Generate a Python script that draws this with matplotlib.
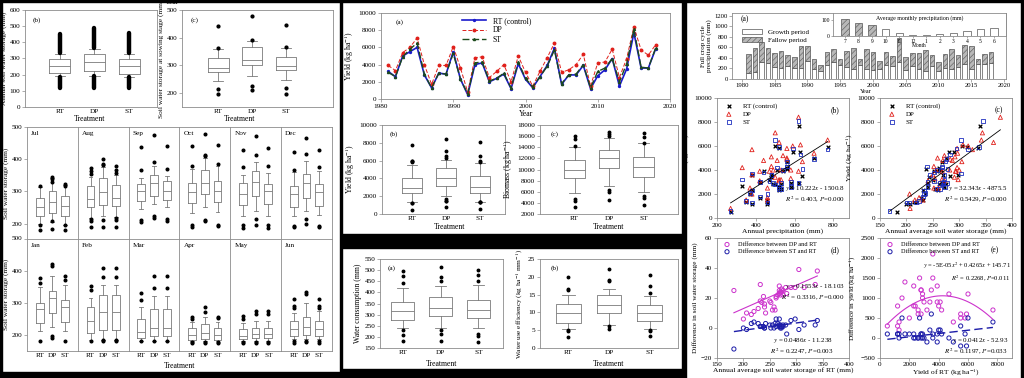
import numpy as np
import matplotlib
matplotlib.use('Agg')
import matplotlib.pyplot as plt
from matplotlib.patches import Rectangle
from matplotlib import cbook

plt.rcParams['font.family'] = ['Liberation Serif', 'DejaVu Serif']
plt.rcParams['mathtext.fontset'] = 'stix'
plt.rcParams['hatch.linewidth'] = 0.4

#Yearly data (1981-2018)
years = list(range(1981, 2019))
yield_rt = [3200, 2600, 5000, 5500, 6000, 2800, 1300, 3000, 2900, 5500, 2300, 500, 4000, 4200, 2000, 2400, 2900, 1200, 4100,
            2300, 1300, 2600, 3900, 5900, 1700, 2800, 2800, 3900, 1200, 2700, 3400, 4700, 1500, 3500, 7700, 3600, 3600, 5800]
yield_dp = [3900, 3300, 5400, 6000, 7100, 4000, 1700, 3900, 3900, 6100, 3600, 800, 4800, 4900, 2500, 3200, 4000, 2000, 5000,
            3100, 1500, 3200, 4800, 6500, 3100, 3400, 4000, 5200, 1500, 4200, 4300, 5800, 2500, 4700, 8400, 5700, 5100, 6300]
yield_st = [3100, 2600, 4900, 5800, 6500, 2900, 1300, 3000, 2900, 5300, 2300, 600, 4200, 4300, 2100, 2400, 3000, 1300, 4300,
            2400, 1400, 2600, 3800, 5700, 1800, 2800, 2900, 4000, 1300, 3200, 3600, 4700, 2000, 4100, 8100, 3700, 3600, 5900]
precip_total = [470, 580, 700, 590, 500, 530, 460, 420, 620, 630, 380, 270, 510, 560, 370, 530, 580, 380, 560,
                520, 350, 520, 440, 770, 420, 500, 490, 540, 460, 330, 480, 560, 460, 640, 620, 380, 480, 520]
precip_growth = [110, 130, 320, 300, 230, 200, 250, 200, 200, 350, 190, 150, 260, 330, 260, 220, 190, 270, 180,
                 170, 190, 260, 240, 320, 170, 240, 180, 160, 240, 160, 200, 180, 220, 290, 180, 280, 290, 300]
sws_rt = [250, 240, 275, 290, 305, 262, 215, 268, 270, 280, 232, 182, 265, 262, 235, 255, 240, 200, 238,
          260, 220, 272, 252, 315, 228, 268, 275, 258, 206, 272, 242, 268, 232, 282, 340, 298, 270, 336]
dsws_dp = [18, 14, 22, 27, 39, 20, 9, 25, 24, 27, 18, 25, 22, 21, 17, 12, 16, 6, 21,
           12, 11, 26, 17, 27, 13, 23, 25, 14, 10, 24, 10, 28, 29, 23, 38, 27, 22, 29]
dsws_st = [2, 0, 1, 5, -1, 1, 3, 2, 0, 2, 1, -14, 3, 6, 1, 2, 0, 0, 1,
           3, 4, 1, 0, 2, 3, 1, 2, 0, -1, 0, 3, 6, 1, -4, 5, 6, 2, 2]

#Average monthly precipitation
month_labels = ['7', '8', '9', '10', '11', '12', '1', '2', '3', '4', '5', '6']
month_precip = [110, 82, 69, 43, 16, 8, 6, 12, 18, 33, 45, 53]
month_fallow = [True, True, True, False, False, False, False, False, False, False, False, False]

treatments = ['RT', 'DP', 'ST']

#Box summaries: (low whisker, q1, median, q3, high whisker, outliers)
annual_sws_box = [(190, 209, 255, 294, 326, []), (192, 222, 278, 328, 360, []), (188, 205, 255, 295, 330, [])]
annual_sws_bands = [[(118, 188), (332, 452)], [(120, 190), (362, 488)], [(115, 185), (335, 455)]]
sowing_sws_box = [(245, 278, 292, 328, 358, [198, 215, 362, 442]),
                  (262, 300, 320, 365, 388, [210, 225, 392, 480]),
                  (248, 282, 297, 330, 362, [198, 218, 368, 445])]
biomass_box = [(5800, 8500, 10000, 11700, 14100, [3300, 4400, 4700, 14200, 15400, 16100]),
               (7000, 10200, 12000, 13500, 15700, [4500, 6000, 6300, 16000, 16400, 16700]),
               (6000, 8700, 10400, 12200, 14700, [3600, 4900, 5200, 14800, 15800, 16500])]
water_box = [(238, 277, 315, 358, 420, [180, 210, 232, 440, 472, 498]),
             (240, 292, 328, 378, 428, [183, 215, 232, 450, 467, 512]),
             (238, 285, 322, 365, 435, [178, 205, 212, 452, 480, 500])]
wue_box = [(5.2, 7.0, 9.7, 12.4, 15.0, [3.2, 4.9, 5.0, 16.3, 16.5, 20.0]),
           (6.5, 9.8, 12.1, 14.8, 16.7, [5.2, 6.2, 18.8, 19.0, 22.2]),
           (5.2, 7.6, 9.9, 12.2, 14.5, [3.5, 4.8, 5.0, 15.5, 17.4, 20.6])]

months = ['Jul', 'Aug', 'Sep', 'Oct', 'Nov', 'Dec', 'Jan', 'Feb', 'Mar', 'Apr', 'May', 'Jun']
sws_jul = [(198, 224, 250, 280, 315, [180, 195, 318]), (205, 232, 268, 300, 340, [182, 208, 330, 338, 345]),
           (197, 225, 255, 285, 320, [180, 196, 318, 323])]
sws_aug = [(218, 250, 275, 317, 345, [188, 207, 215, 355, 362, 372]), (225, 257, 298, 340, 375, [190, 212, 382, 385, 402]),
           (220, 253, 278, 320, 350, [188, 210, 218, 358, 365, 378])]
sws_sep = [(244, 270, 300, 322, 342, [205, 212, 365, 437]), (260, 287, 325, 350, 380, [218, 223, 390, 475]),
           (250, 272, 301, 332, 348, [208, 215, 370, 440])]
sws_oct = [(233, 265, 298, 325, 370, [190, 196, 380, 440]), (250, 293, 325, 365, 405, [208, 212, 410, 414, 478]),
           (235, 268, 302, 332, 380, [192, 196, 385, 443])]
sws_nov = [(224, 258, 293, 325, 350, [185, 195, 375, 430]), (240, 285, 328, 362, 390, [195, 213, 412, 472]),
           (225, 262, 300, 322, 358, [185, 195, 380, 435])]
sws_dec = [(225, 250, 292, 317, 360, [190, 193, 365, 422]), (240, 280, 325, 353, 395, [200, 213, 415, 465]),
           (227, 255, 297, 322, 362, [190, 193, 375, 427])]
sws_jan = [(213, 236, 282, 300, 348, [182, 362, 378]), (225, 268, 316, 338, 385, [192, 197, 415, 420]),
           (213, 240, 288, 308, 355, [183, 370, 385])]
sws_feb = [(185, 207, 245, 287, 315, [183, 340, 352]), (185, 215, 272, 323, 355, [183, 185, 380, 407]),
           (185, 215, 272, 323, 355, [183, 185, 380, 407])]
sws_mar = [(182, 192, 208, 250, 287, [180, 310, 330]), (182, 197, 222, 280, 322, [180, 345, 385]),
           (182, 197, 222, 280, 322, [180, 345, 385])]
sws_apr = [(182, 186, 200, 222, 240, [175, 178, 250, 256]), (182, 188, 207, 235, 255, [175, 178, 272, 288]),
           (182, 186, 200, 222, 242, [175, 178, 252, 257])]
sws_may = [(182, 188, 197, 220, 238, [175, 178, 250, 258]), (182, 190, 202, 223, 245, [175, 178, 265, 275]),
           (182, 190, 202, 223, 245, [175, 178, 265, 275])]
sws_jun = [(188, 197, 220, 243, 270, [175, 180, 283, 290, 312]), (188, 200, 225, 257, 300, [178, 183, 328, 335]),
           (188, 197, 220, 245, 275, [175, 180, 285, 290, 312])]
monthly_sws = [sws_jul, sws_aug, sws_sep, sws_oct, sws_nov, sws_dec,
               sws_jan, sws_feb, sws_mar, sws_apr, sws_may, sws_jun]

#Regression coefficients printed on the panels
fit_precip = (10.222, -1500.8)
fit_sws = (32.343, -4875.5)
fit_dsws_dp = (0.1553, -18.103)
fit_dsws_st = (0.0486, -11.238)
fit_dyield_dp = (-5e-05, 0.4265, 145.71)
fit_dyield_st = (0.0412, -52.93)

W, H = 1024, 378
fig = plt.figure(figsize=(W / 100, H / 100), dpi=100)
fig.patch.set_facecolor('white')
GRAY = '#7a7a7a'
FS = 5.2
LEG = 4.5


def pax(x0, y0, x1, y1):
    ax = fig.add_axes([x0 / W, 1 - y1 / H, (x1 - x0) / W, (y1 - y0) / H])
    for s in ax.spines.values():
        s.set_color('#8c8c8c')
        s.set_linewidth(0.6)
    ax.tick_params(labelsize=FS, length=2, width=0.5, color='#8c8c8c', pad=1.5)
    return ax


def to_stats(rows):
    return [dict(whislo=r[0], q1=r[1], med=r[2], q3=r[3], whishi=r[4], fliers=r[5]) for r in rows]


def draw_box(ax, stats, ms=2.0):
    lp = dict(color=GRAY, lw=0.6)
    ax.bxp(stats, positions=[1, 2, 3], widths=0.6, capwidths=0.3, showfliers=True,
           boxprops=lp, medianprops=lp, whiskerprops=lp, capprops=lp,
           flierprops=dict(marker='o', ms=ms, mfc='k', mec='k', ls='none'))
    ax.set_xticks([1, 2, 3])
    ax.set_xticklabels(treatments)
    ax.tick_params(axis='x', length=0)


def fig_text(x, y, s, **kw):
    kw.setdefault('fontsize', 5.6)
    fig.text(x / W, 1 - y / H, s, **kw)


def black(x0, y0, x1, y1):
    fig.add_artist(Rectangle((x0 / W, 1 - y1 / H), (x1 - x0) / W, (y1 - y0) / H,
                             transform=fig.transFigure, color='k', zorder=20))


# ---------------- Left block ----------------
ax = pax(25, 10, 157, 107)
draw_box(ax, to_stats(annual_sws_box))
for i, bands in enumerate(annual_sws_bands):
    for lo, hi in bands:
        ax.vlines(i + 1, lo, hi, color='k', lw=3.2, capstyle='round')
ax.set_xlim(0, 3.8)
ax.set_ylim(0, 600)
ax.set_ylabel('Annual soil water storage (mm)', fontsize=FS, labelpad=2)
ax.text(0.06, 0.93, '(b)', transform=ax.transAxes, fontsize=FS, va='top')
fig_text(90, 121, 'Treatment', ha='center')

ax = pax(182, 10, 333, 107)
draw_box(ax, to_stats(sowing_sws_box))
ax.set_xlim(-0.08, 4.4)
ax.set_ylim(150, 500)
ax.set_ylabel('Soil water storage at sowing stage (mm)', fontsize=FS, labelpad=2)
ax.text(0.06, 0.93, '(c)', transform=ax.transAxes, fontsize=FS, va='top')
fig_text(240, 121, 'Treatment', ha='center')
fig_text(172, 4, 'Year', ha='center')

#Monthly grid
for k, (mname, rows) in enumerate(zip(months, monthly_sws)):
    r, c = divmod(k, 6)
    x0 = 27 + c * 50.8
    y0 = 127 + r * 111.5
    ax = pax(x0, y0, x0 + 50.8, y0 + 112)
    draw_box(ax, to_stats(rows), ms=1.9)
    ax.set_xlim(0, 4)
    ax.set_ylim(152, 500)
    ax.set_yticks([200, 300, 400, 500])
    if c > 0:
        ax.tick_params(axis='y', length=0, labelleft=False)
    else:
        ax.set_ylabel('Soil water storage (mm)', fontsize=FS, labelpad=2)
    if r == 0:
        ax.tick_params(axis='x', labelbottom=False)
    ax.text(0.08, 0.96, mname, transform=ax.transAxes, fontsize=FS, va='top')
fig_text(180, 368, 'Treatment', ha='center')

# ---------------- Middle block ----------------
ax = pax(381, 13, 670, 99)
ax.plot(years, yield_rt, color='#1a1acc', lw=1.2, marker='o', ms=1.4, label='RT (control)')
ax.plot(years, yield_dp, color='#e0201b', lw=0.7, ls=(0, (4, 2)), marker='o', ms=1.8, label='DP')
ax.plot(years, yield_st, color='#1d4a1d', lw=1.0, ls=(0, (5, 2)), marker='^', ms=1.5, label='ST')
ax.set_xlim(1980, 2020)
ax.set_ylim(0, 10000)
ax.set_xticks([1980, 1990, 2000, 2010, 2020])
ax.set_yticks(range(0, 10001, 2000))
ax.set_xlabel('Year', fontsize=FS + 0.4, labelpad=1)
ax.set_ylabel('Yield (kg ha$^{-1}$)', fontsize=FS + 0.4, labelpad=2)
ax.text(0.05, 0.93, '(a)', transform=ax.transAxes, fontsize=FS, va='top')
ax.legend(loc='upper left', bbox_to_anchor=(0.26, 1.02), fontsize=FS + 0.4, frameon=False,
          handlelength=3.2, labelspacing=0.2, borderpad=0.2)

ax = pax(382, 125, 505, 214)
yb = [cbook.boxplot_stats(v, whis=(10, 90))[0] for v in (yield_rt, yield_dp, yield_st)]
draw_box(ax, yb, ms=1.8)
ax.set_xlim(0.1, 3.75)
ax.set_ylim(0, 10000)
ax.set_yticks(range(0, 10001, 2000))
ax.set_ylabel('Yield (kg ha$^{-1}$)', fontsize=FS + 0.4, labelpad=2)
ax.text(0.06, 0.93, '(b)', transform=ax.transAxes, fontsize=FS, va='top')
fig_text(450, 229, 'Treatment', ha='center')

ax = pax(540, 125, 678, 214)
draw_box(ax, to_stats(biomass_box), ms=1.8)
ax.set_xlim(0, 4)
ax.set_ylim(2000, 18000)
ax.set_yticks(range(2000, 18001, 2000))
ax.set_ylabel('Biomass (kg ha$^{-1}$)', fontsize=FS + 0.4, labelpad=2)
ax.text(0.08, 0.93, '(c)', transform=ax.transAxes, fontsize=FS, va='top')
fig_text(609, 229, 'Treatment', ha='center')

ax = pax(380, 259, 503, 348)
draw_box(ax, to_stats(water_box), ms=1.8)
ax.set_xlim(0.4, 3.65)
ax.set_ylim(150, 550)
ax.set_yticks(range(150, 551, 50))
ax.set_ylabel('Water consumption (mm)', fontsize=FS + 0.4, labelpad=2)
ax.text(0.06, 0.93, '(a)', transform=ax.transAxes, fontsize=FS, va='top')
fig_text(442, 366, 'Treatment', ha='center')

ax = pax(540, 259, 678, 348)
draw_box(ax, to_stats(wue_box), ms=1.8)
ax.set_xlim(0.3, 3.7)
ax.set_ylim(0, 25)
ax.set_yticks(range(0, 26, 5))
ax.set_ylabel('Water use efficiency (kg ha$^{-1}$ mm$^{-1}$)', fontsize=FS, labelpad=2)
ax.text(0.08, 0.93, '(b)', transform=ax.transAxes, fontsize=FS, va='top')
fig_text(609, 366, 'Treatment', ha='center')

# ---------------- Right block ----------------
fallow = [t - g for t, g in zip(precip_total, precip_growth)]
ax = pax(732, 13, 1006, 79)
ax.bar(years, precip_growth, width=0.7, color='white', edgecolor='#555555', lw=0.5)
ax.bar(years, fallow, bottom=precip_growth, width=0.7, color='#b8b8b8', edgecolor='#555555',
       lw=0.5, hatch='//////')
ax.set_xlim(1978.5, 2020.3)
ax.set_ylim(0, 1250)
ax.set_yticks(range(0, 1201, 200))
ax.set_xticks(range(1980, 2021, 5))
ax.tick_params(labelsize=FS - 0.4, pad=1)
ax.set_ylabel('Full crop cycle\nprecipitation (mm)', fontsize=FS - 0.2, labelpad=2, linespacing=1.0)
ax.text(0.03, 0.96, '(a)', transform=ax.transAxes, fontsize=FS + 0.3, va='top')
handles = [Rectangle((0, 0), 1, 1, fc='white', ec='#555555', lw=0.5),
           Rectangle((0, 0), 1, 1, fc='#b8b8b8', ec='#555555', lw=0.5, hatch='//////')]
ax.legend(handles, ['Growth period', 'Fallow period'], loc='upper left', bbox_to_anchor=(0.02, 0.82),
          fontsize=LEG + 0.5, frameon=False, handlelength=3.0, handleheight=0.8, labelspacing=0.2,
          borderpad=0.1)
fig_text(866, 93, 'Year', ha='center', fontsize=FS - 0.6)

ax = pax(833, 13, 1006, 36)
ax.set_facecolor('white')
mpos = np.arange(len(month_precip))
for p, v, f in zip(mpos, month_precip, month_fallow):
    ax.bar(p, v, width=0.55, color='#b8b8b8' if f else 'white', edgecolor='#555555', lw=0.5,
           hatch='//////' if f else None)
ax.set_xlim(-0.9, 11.9)
ax.set_ylim(0, 145)
ax.set_yticks([0, 100])
ax.set_xticks(mpos)
ax.set_xticklabels(month_labels)
ax.tick_params(labelsize=4.0, length=1.5, pad=1)
ax.set_xlabel('Month', fontsize=4.0, labelpad=-1)
ax.text(0.5, 0.92, 'Average monthly precipitation (mm)', transform=ax.transAxes, fontsize=4.2,
        ha='center', va='top')

#Yield vs precipitation
ax = pax(717, 98, 849, 218)
ax.scatter(precip_total, yield_rt, marker='x', c='k', s=7, lw=0.9, label='RT (control)')
ax.scatter(precip_total, yield_dp, marker='^', facecolors='none', edgecolors='#e0201b', s=9, lw=0.6, label='DP')
ax.scatter(precip_total, yield_st, marker='s', facecolors='none', edgecolors='#1f2fbf', s=7, lw=0.6, label='ST')
xs = np.array([min(precip_total), max(precip_total)])
ax.plot(xs, fit_precip[0] * xs + fit_precip[1], color='k', lw=0.6)
ax.set_xlim(200, 880)
ax.set_ylim(0, 10000)
ax.set_xticks([200, 400, 600, 800])
ax.set_yticks(range(0, 10001, 2000))
ax.set_xlabel('Annual precipitation (mm)', fontsize=FS + 0.2, labelpad=0.5)
ax.set_ylabel('Yield (kg ha$^{-1}$)', fontsize=FS + 0.2, labelpad=2)
ax.text(0.93, 0.93, '(b)', transform=ax.transAxes, fontsize=FS + 0.3, va='top', ha='right')
ax.text(0.97, 0.2, '$y$ = 10.222$x$ - 1500.8\n$R^2$ = 0.403, $P$=0.000', transform=ax.transAxes,
        fontsize=FS - 0.2, ha='right', va='center')
ax.legend(loc='upper left', fontsize=LEG + 0.5, frameon=False, handletextpad=1.0, labelspacing=0.3,
          borderpad=0.2, scatterpoints=1)

#Yield vs soil water storage
sws_dp = [a + b for a, b in zip(sws_rt, dsws_dp)]
sws_st = [a + b for a, b in zip(sws_rt, dsws_st)]
ax = pax(880, 98, 1012, 218)
ax.scatter(sws_rt, yield_rt, marker='x', c='k', s=7, lw=0.9, label='RT (control)')
ax.scatter(sws_dp, yield_dp, marker='^', facecolors='none', edgecolors='#e0201b', s=9, lw=0.6, label='DP')
ax.scatter(sws_st, yield_st, marker='s', facecolors='none', edgecolors='#1f2fbf', s=7, lw=0.6, label='ST')
allx = sws_rt + sws_dp + sws_st
xs = np.array([min(allx), max(allx)])
ax.plot(xs, fit_sws[0] * xs + fit_sws[1], color='k', lw=0.6)
ax.set_xlim(150, 400)
ax.set_ylim(0, 10000)
ax.set_yticks(range(0, 10001, 2000))
ax.set_xlabel('Annual average soil water storage (mm)', fontsize=FS + 0.2, labelpad=0.5)
ax.set_ylabel('Yield (kg ha$^{-1}$)', fontsize=FS + 0.2, labelpad=2)
ax.text(0.93, 0.93, '(c)', transform=ax.transAxes, fontsize=FS + 0.3, va='top', ha='right')
ax.text(0.97, 0.2, '$y$ = 32.343$x$ - 4875.5\n$R^2$ = 0.5429, $P$=0.000', transform=ax.transAxes,
        fontsize=FS - 0.2, ha='right', va='center')
ax.legend(loc='upper left', fontsize=LEG + 0.5, frameon=False, handletextpad=1.0, labelspacing=0.3,
          borderpad=0.2, scatterpoints=1)

#Soil water storage differences
MAG, BLU = '#cc33cc', '#1c1ca8'
ax = pax(717, 238, 849, 358)
ax.scatter(sws_rt, dsws_dp, marker='o', facecolors='none', edgecolors=MAG, s=9, lw=0.7,
           label='Difference between DP and RT')
ax.scatter(sws_rt, dsws_st, marker='o', facecolors='none', edgecolors=BLU, s=9, lw=0.7,
           label='Difference between ST and RT')
xs = np.array([min(sws_rt), max(sws_rt)])
ax.plot(xs, fit_dsws_dp[0] * xs + fit_dsws_dp[1], color=MAG, lw=0.8)
ax.plot(xs, fit_dsws_st[0] * xs + fit_dsws_st[1], color=BLU, lw=1.0, ls=(0, (6, 3)))
ax.set_xlim(150, 400)
ax.set_ylim(-20, 60)
ax.set_yticks(range(-20, 61, 20))
ax.tick_params(axis='x', pad=1)
ax.set_xlabel('Annual average soil water storage of RT (mm)', fontsize=FS + 0.2, labelpad=0)
ax.set_ylabel('Difference in soil water storage (mm)', fontsize=FS, labelpad=2)
ax.text(0.93, 0.93, '(d)', transform=ax.transAxes, fontsize=FS + 0.3, va='top', ha='right')
ax.text(0.97, 0.55, '$y$ = 0.1553$x$ - 18.103\n$R^2$ = 0.3316, $P$=0.000', transform=ax.transAxes,
        fontsize=FS - 0.2, ha='right', va='center')
ax.text(0.88, 0.1, '$y$ = 0.0486$x$ - 11.238\n$R^2$ = 0.2247, $P$=0.003', transform=ax.transAxes,
        fontsize=FS - 0.2, ha='right', va='center')
ax.legend(loc='upper left', fontsize=LEG, frameon=False, handletextpad=0.8, labelspacing=0.3,
          borderpad=0.1, scatterpoints=1)

#Yield differences
ddp = [d - r for d, r in zip(yield_dp, yield_rt)]
dst = [s - r for s, r in zip(yield_st, yield_rt)]
ax = pax(880, 238, 1012, 358)
ax.scatter(yield_rt, ddp, marker='o', facecolors='none', edgecolors=MAG, s=9, lw=0.7,
           label='Difference between DP and RT')
ax.scatter(yield_rt, dst, marker='o', facecolors='none', edgecolors=BLU, s=9, lw=0.7,
           label='Difference between ST and RT')
xs = np.linspace(min(yield_rt), max(yield_rt), 100)
ax.plot(xs, np.polyval(fit_dyield_dp, xs), color=MAG, lw=0.8)
ax.plot(xs, np.polyval(fit_dyield_st, xs), color=BLU, lw=1.0, ls=(0, (6, 3)))
ax.set_xlim(0, 9000)
ax.set_ylim(-500, 2500)
ax.set_xticks(range(0, 8001, 2000))
ax.set_yticks(range(-500, 2501, 500))
ax.tick_params(axis='x', pad=1)
ax.set_xlabel('Yield of RT (kg ha$^{-1}$)', fontsize=FS + 0.2, labelpad=0)
ax.set_ylabel('Difference in yield (kg ha$^{-1}$)', fontsize=FS, labelpad=2)
ax.text(0.90, 0.93, '(e)', transform=ax.transAxes, fontsize=FS + 0.3, va='top', ha='right')
ax.text(0.99, 0.72, '$y$ = -5E-05$x^2$ + 0.4265$x$ + 145.71\n$R^2$ = 0.2268, $P$=0.011',
        transform=ax.transAxes, fontsize=FS - 0.5, ha='right', va='center')
ax.text(0.97, 0.1, '$y$ = 0.0412$x$ - 52.93\n$R^2$ = 0.1197, $P$=0.033', transform=ax.transAxes,
        fontsize=FS - 0.2, ha='right', va='center')
ax.legend(loc='upper left', fontsize=LEG, frameon=False, handletextpad=0.8, labelspacing=0.3,
          borderpad=0.1, scatterpoints=1)

# ---------------- Black frame pieces ----------------
black(0, 0, W, 1.5)
black(0, 0, 1.5, H)
black(340, 0, 342, H)
black(342, 234, 682, 248)
black(342, 369, 682, H)
black(0, 372, 340, H)
black(682, 0, 686, H)
black(1021, 0, W, H)

fig.savefig('out.png', dpi=100)
